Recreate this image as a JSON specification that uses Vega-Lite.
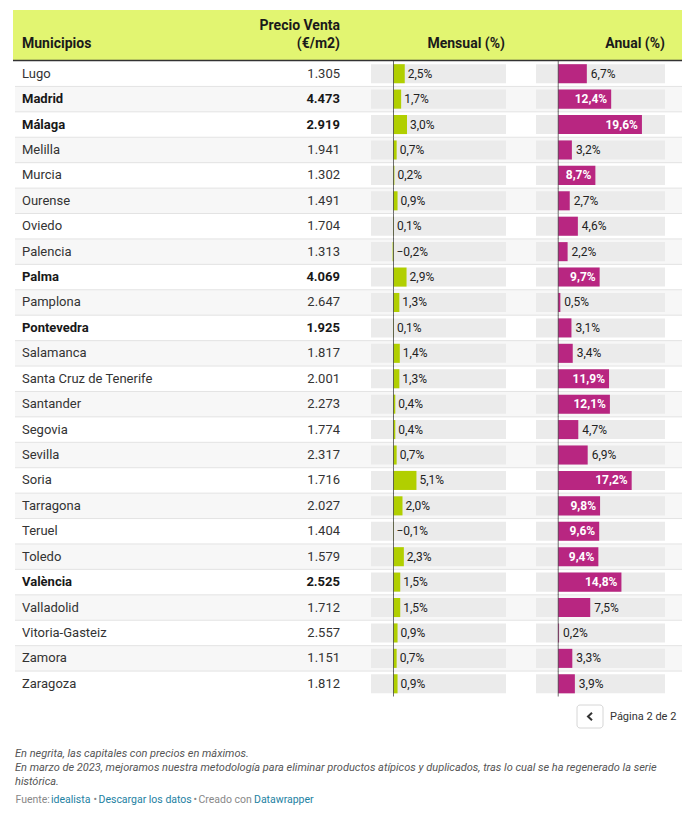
{
  "$schema": "https://vega.github.io/schema/vega-lite/v6.json",
  "width": 697,
  "height": 832,
  "autosize": {"type": "none"},
  "padding": 0,
  "background": "white",
  "config": {"view": {"stroke": null}, "font": "Roboto", "text": {"font": "Roboto"}},
  "layer": [
    {
      "data": {"values": [{}]},
      "layer": [
        {
          "mark": {"type": "rect", "color": "#e2f571"},
          "encoding": {
            "x": {"datum": 13, "type": "quantitative", "scale": {"domain": [0, 697], "nice": false, "zero": false}, "axis": null},
            "x2": {"datum": 682},
            "y": {"datum": 10, "type": "quantitative", "scale": {"domain": [0, 832], "nice": false, "zero": false, "reverse": true}, "axis": null},
            "y2": {"datum": 60}
          }
        },
        {
          "mark": {"type": "rule", "color": "#333333", "strokeWidth": 1.5},
          "encoding": {"x": {"datum": 13, "type": "quantitative"}, "x2": {"datum": 682}, "y": {"datum": 60.5, "type": "quantitative"}}
        },
        {
          "mark": {"type": "text", "text": "Municipios", "align": "left", "baseline": "middle", "fontSize": 14, "fontWeight": "bold", "color": "#1a1a1a"},
          "encoding": {"x": {"datum": 22, "type": "quantitative"}, "y": {"datum": 44, "type": "quantitative"}}
        },
        {
          "mark": {"type": "text", "text": "Precio Venta", "align": "right", "baseline": "middle", "fontSize": 14, "fontWeight": "bold", "color": "#1a1a1a"},
          "encoding": {"x": {"datum": 340, "type": "quantitative"}, "y": {"datum": 26, "type": "quantitative"}}
        },
        {
          "mark": {"type": "text", "text": "(€/m2)", "align": "right", "baseline": "middle", "fontSize": 14, "fontWeight": "bold", "color": "#1a1a1a"},
          "encoding": {"x": {"datum": 340, "type": "quantitative"}, "y": {"datum": 44, "type": "quantitative"}}
        },
        {
          "mark": {"type": "text", "text": "Mensual (%)", "align": "right", "baseline": "middle", "fontSize": 14, "fontWeight": "bold", "color": "#1a1a1a"},
          "encoding": {"x": {"datum": 505, "type": "quantitative"}, "y": {"datum": 44, "type": "quantitative"}}
        },
        {
          "mark": {"type": "text", "text": "Anual (%)", "align": "right", "baseline": "middle", "fontSize": 14, "fontWeight": "bold", "color": "#1a1a1a"},
          "encoding": {"x": {"datum": 665, "type": "quantitative"}, "y": {"datum": 44, "type": "quantitative"}}
        },
        {
          "mark": {"type": "rect", "fill": "white", "stroke": "#d6d6d6", "strokeWidth": 1, "cornerRadius": 3},
          "encoding": {"x": {"datum": 577, "type": "quantitative"}, "x2": {"datum": 603}, "y": {"datum": 705, "type": "quantitative"}, "y2": {"datum": 728}}
        },
        {
          "mark": {"type": "point", "shape": "M0.4,-0.75L-0.4,0L0.4,0.75", "filled": false, "size": 100, "strokeWidth": 2, "color": "#333333", "opacity": 1},
          "encoding": {"x": {"datum": 590, "type": "quantitative"}, "y": {"datum": 716.5, "type": "quantitative"}}
        },
        {
          "mark": {"type": "text", "text": "Página 2 de 2", "align": "left", "baseline": "middle", "fontSize": 11, "color": "#333333"},
          "encoding": {"x": {"datum": 610, "type": "quantitative"}, "y": {"datum": 716.5, "type": "quantitative"}}
        },
        {
          "mark": {"type": "text", "text": "En negrita, las capitales con precios en máximos.", "align": "left", "baseline": "middle", "fontSize": 11, "fontStyle": "italic", "color": "#555555"},
          "encoding": {"x": {"datum": 15, "type": "quantitative"}, "y": {"datum": 754, "type": "quantitative"}}
        },
        {
          "mark": {"type": "text", "text": "En marzo de 2023, mejoramos nuestra metodología para eliminar productos atípicos y duplicados, tras lo cual se ha regenerado la serie", "align": "left", "baseline": "middle", "fontSize": 11, "fontStyle": "italic", "color": "#555555"},
          "encoding": {"x": {"datum": 15, "type": "quantitative"}, "y": {"datum": 768, "type": "quantitative"}}
        },
        {
          "mark": {"type": "text", "text": "histórica.", "align": "left", "baseline": "middle", "fontSize": 11, "fontStyle": "italic", "color": "#555555"},
          "encoding": {"x": {"datum": 15, "type": "quantitative"}, "y": {"datum": 781.5, "type": "quantitative"}}
        },
        {
          "mark": {"type": "text", "text": "Fuente:", "align": "left", "baseline": "middle", "fontSize": 10.5, "color": "#888888"},
          "encoding": {"x": {"datum": 15.5, "type": "quantitative"}, "y": {"datum": 800, "type": "quantitative"}}
        },
        {
          "mark": {"type": "text", "text": "idealista", "align": "left", "baseline": "middle", "fontSize": 10.5, "color": "#1d81a2"},
          "encoding": {"x": {"datum": 51, "type": "quantitative"}, "y": {"datum": 800, "type": "quantitative"}}
        },
        {
          "mark": {"type": "text", "text": "•", "align": "left", "baseline": "middle", "fontSize": 10.5, "color": "#888888"},
          "encoding": {"x": {"datum": 93.5, "type": "quantitative"}, "y": {"datum": 800, "type": "quantitative"}}
        },
        {
          "mark": {"type": "text", "text": "Descargar los datos", "align": "left", "baseline": "middle", "fontSize": 10.5, "color": "#1d81a2"},
          "encoding": {"x": {"datum": 98.5, "type": "quantitative"}, "y": {"datum": 800, "type": "quantitative"}}
        },
        {
          "mark": {"type": "text", "text": "•", "align": "left", "baseline": "middle", "fontSize": 10.5, "color": "#888888"},
          "encoding": {"x": {"datum": 193.5, "type": "quantitative"}, "y": {"datum": 800, "type": "quantitative"}}
        },
        {
          "mark": {"type": "text", "text": "Creado con", "align": "left", "baseline": "middle", "fontSize": 10.5, "color": "#888888"},
          "encoding": {"x": {"datum": 198.5, "type": "quantitative"}, "y": {"datum": 800, "type": "quantitative"}}
        },
        {
          "mark": {"type": "text", "text": "Datawrapper", "align": "left", "baseline": "middle", "fontSize": 10.5, "color": "#1d81a2"},
          "encoding": {"x": {"datum": 254, "type": "quantitative"}, "y": {"datum": 800, "type": "quantitative"}}
        }
      ]
    },
    {
      "data": {"values": [
        {"municipio": "Lugo", "precio": 1305, "mensual": 2.5, "anual": 6.7, "capital_maximos": false},
        {"municipio": "Madrid", "precio": 4473, "mensual": 1.7, "anual": 12.4, "capital_maximos": true},
        {"municipio": "Málaga", "precio": 2919, "mensual": 3.0, "anual": 19.6, "capital_maximos": true},
        {"municipio": "Melilla", "precio": 1941, "mensual": 0.7, "anual": 3.2, "capital_maximos": false},
        {"municipio": "Murcia", "precio": 1302, "mensual": 0.2, "anual": 8.7, "capital_maximos": false},
        {"municipio": "Ourense", "precio": 1491, "mensual": 0.9, "anual": 2.7, "capital_maximos": false},
        {"municipio": "Oviedo", "precio": 1704, "mensual": 0.1, "anual": 4.6, "capital_maximos": false},
        {"municipio": "Palencia", "precio": 1313, "mensual": -0.2, "anual": 2.2, "capital_maximos": false},
        {"municipio": "Palma", "precio": 4069, "mensual": 2.9, "anual": 9.7, "capital_maximos": true},
        {"municipio": "Pamplona", "precio": 2647, "mensual": 1.3, "anual": 0.5, "capital_maximos": false},
        {"municipio": "Pontevedra", "precio": 1925, "mensual": 0.1, "anual": 3.1, "capital_maximos": true},
        {"municipio": "Salamanca", "precio": 1817, "mensual": 1.4, "anual": 3.4, "capital_maximos": false},
        {"municipio": "Santa Cruz de Tenerife", "precio": 2001, "mensual": 1.3, "anual": 11.9, "capital_maximos": false},
        {"municipio": "Santander", "precio": 2273, "mensual": 0.4, "anual": 12.1, "capital_maximos": false},
        {"municipio": "Segovia", "precio": 1774, "mensual": 0.4, "anual": 4.7, "capital_maximos": false},
        {"municipio": "Sevilla", "precio": 2317, "mensual": 0.7, "anual": 6.9, "capital_maximos": false},
        {"municipio": "Soria", "precio": 1716, "mensual": 5.1, "anual": 17.2, "capital_maximos": false},
        {"municipio": "Tarragona", "precio": 2027, "mensual": 2.0, "anual": 9.8, "capital_maximos": false},
        {"municipio": "Teruel", "precio": 1404, "mensual": -0.1, "anual": 9.6, "capital_maximos": false},
        {"municipio": "Toledo", "precio": 1579, "mensual": 2.3, "anual": 9.4, "capital_maximos": false},
        {"municipio": "València", "precio": 2525, "mensual": 1.5, "anual": 14.8, "capital_maximos": true},
        {"municipio": "Valladolid", "precio": 1712, "mensual": 1.5, "anual": 7.5, "capital_maximos": false},
        {"municipio": "Vitoria-Gasteiz", "precio": 2557, "mensual": 0.9, "anual": 0.2, "capital_maximos": false},
        {"municipio": "Zamora", "precio": 1151, "mensual": 0.7, "anual": 3.3, "capital_maximos": false},
        {"municipio": "Zaragoza", "precio": 1812, "mensual": 0.9, "anual": 3.9, "capital_maximos": false}
      ]},
      "transform": [
        {"window": [{"op": "row_number", "as": "n"}]},
        {"calculate": "replace(format(datum.mensual, '.1f'), '.', ',') + '%'", "as": "lab_m"},
        {"calculate": "replace(format(datum.anual, '.1f'), '.', ',') + '%'", "as": "lab_a"},
        {"calculate": "replace(format(datum.precio, ','), ',', '.')", "as": "lab_p"}
      ],
      "encoding": {
        "y": {"field": "municipio", "type": "nominal", "sort": null, "scale": {"type": "band", "domain": ["Lugo", "Madrid", "Málaga", "Melilla", "Murcia", "Ourense", "Oviedo", "Palencia", "Palma", "Pamplona", "Pontevedra", "Salamanca", "Santa Cruz de Tenerife", "Santander", "Segovia", "Sevilla", "Soria", "Tarragona", "Teruel", "Toledo", "València", "Valladolid", "Vitoria-Gasteiz", "Zamora", "Zaragoza"], "range": [61, 696.5], "paddingInner": 0, "paddingOuter": 0}, "axis": null}
      },
      "layer": [
        {
          "layer": [
            {
              "transform": [{"filter": "datum.n % 2 == 0"}],
              "mark": {"type": "rect", "color": "#f7f7f7"},
              "encoding": {
                "x": {"datum": 15, "type": "quantitative", "scale": {"domain": [0, 697], "nice": false, "zero": false}, "axis": null},
                "x2": {"datum": 682}
              }
            },
            {
              "transform": [{"filter": "datum.n > 1"}],
              "mark": {"type": "rule", "color": "#e3e3e3", "strokeWidth": 1},
              "encoding": {
                "x": {"datum": 15, "type": "quantitative"},
                "x2": {"datum": 682},
                "y": {"field": "municipio", "type": "nominal", "sort": null, "bandPosition": 0}
              }
            },
            {
              "transform": [{"filter": "!datum.capital_maximos"}],
              "mark": {"type": "text", "align": "left", "baseline": "middle", "fontSize": 13, "color": "#333333"},
              "encoding": {"x": {"datum": 22, "type": "quantitative"}, "text": {"field": "municipio"}}
            },
            {
              "transform": [{"filter": "datum.capital_maximos"}],
              "mark": {"type": "text", "align": "left", "baseline": "middle", "fontSize": 13, "fontWeight": "bold", "color": "#181818"},
              "encoding": {"x": {"datum": 22, "type": "quantitative"}, "text": {"field": "municipio"}}
            },
            {
              "transform": [{"filter": "!datum.capital_maximos"}],
              "mark": {"type": "text", "align": "right", "baseline": "middle", "fontSize": 13, "color": "#333333"},
              "encoding": {"x": {"datum": 340, "type": "quantitative"}, "text": {"field": "lab_p"}}
            },
            {
              "transform": [{"filter": "datum.capital_maximos"}],
              "mark": {"type": "text", "align": "right", "baseline": "middle", "fontSize": 13, "fontWeight": "bold", "color": "#181818"},
              "encoding": {"x": {"datum": 340, "type": "quantitative"}, "text": {"field": "lab_p"}}
            }
          ]
        },
        {
          "layer": [
            {
              "mark": {"type": "bar", "color": "#ebebeb", "height": {"band": 0.75}},
              "encoding": {
                "x": {"datum": -5, "type": "quantitative", "scale": {"domain": [-5, 25], "range": [371, 506], "nice": false, "zero": false}, "axis": null},
                "x2": {"datum": 25}
              }
            },
            {
              "mark": {"type": "bar", "color": "#b1cf00", "height": {"band": 0.75}},
              "encoding": {"x": {"field": "mensual", "type": "quantitative"}}
            },
            {
              "mark": {"type": "tick", "color": "#333333", "thickness": 1, "size": 25.6},
              "encoding": {"x": {"datum": 0, "type": "quantitative"}}
            },
            {
              "transform": [{"filter": "datum.mensual >= 0"}],
              "mark": {"type": "text", "align": "left", "baseline": "middle", "dx": 3, "fontSize": 12, "color": "#222222"},
              "encoding": {"x": {"field": "mensual", "type": "quantitative"}, "text": {"field": "lab_m"}}
            },
            {
              "transform": [{"filter": "datum.mensual < 0"}],
              "mark": {"type": "text", "align": "left", "baseline": "middle", "dx": 3, "fontSize": 12, "color": "#222222"},
              "encoding": {"x": {"datum": 0, "type": "quantitative"}, "text": {"field": "lab_m"}}
            }
          ]
        },
        {
          "layer": [
            {
              "mark": {"type": "bar", "color": "#ebebeb", "height": {"band": 0.75}},
              "encoding": {
                "x": {"datum": -5.2, "type": "quantitative", "scale": {"domain": [-5.2, 25], "range": [536, 665], "nice": false, "zero": false}, "axis": null},
                "x2": {"datum": 25}
              }
            },
            {
              "mark": {"type": "bar", "color": "#b82681", "height": {"band": 0.75}},
              "encoding": {"x": {"field": "anual", "type": "quantitative"}}
            },
            {
              "mark": {"type": "tick", "color": "#333333", "thickness": 1, "size": 25.6},
              "encoding": {"x": {"datum": 0, "type": "quantitative"}}
            },
            {
              "transform": [{"filter": "datum.anual < 8"}],
              "mark": {"type": "text", "align": "left", "baseline": "middle", "dx": 4, "fontSize": 12, "color": "#222222"},
              "encoding": {"x": {"field": "anual", "type": "quantitative"}, "text": {"field": "lab_a"}}
            },
            {
              "transform": [{"filter": "datum.anual >= 8"}],
              "mark": {"type": "text", "align": "right", "baseline": "middle", "dx": -4, "fontSize": 12, "fontWeight": "bold", "color": "white"},
              "encoding": {"x": {"field": "anual", "type": "quantitative"}, "text": {"field": "lab_a"}}
            }
          ]
        }
      ],
      "resolve": {"scale": {"x": "independent"}}
    }
  ],
  "resolve": {"scale": {"x": "independent", "y": "independent"}}
}
